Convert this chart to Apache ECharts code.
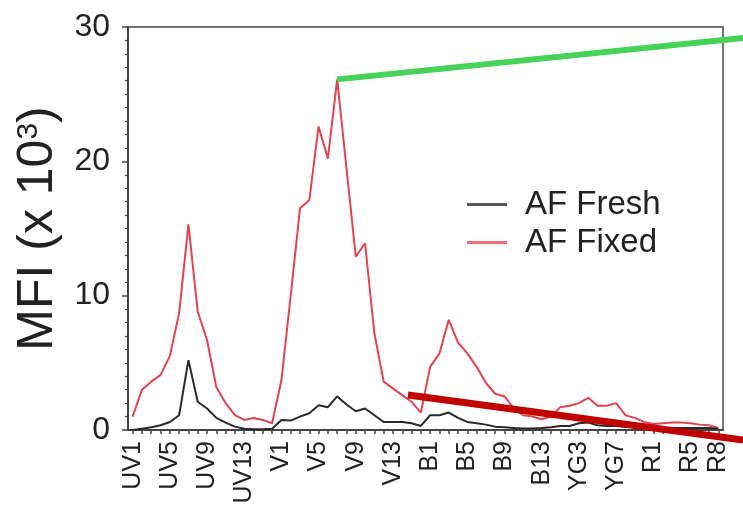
<!DOCTYPE html>
<html>
<head>
<meta charset="utf-8">
<script src="https://cdn.jsdelivr.net/npm/echarts@6/dist/echarts.min.js"></script>
<style>
html,body{margin:0;padding:0;background:#fff;}
#chart{width:743px;height:512px;}
</style>
</head>
<body>
<div id="chart"></div>
<script>
const categories = [
  'UV1','UV2','UV3','UV4','UV5','UV6','UV7','UV8','UV9','UV10','UV11','UV12','UV13','UV14','UV15','UV16',
  'V1','V2','V3','V4','V5','V6','V7','V8','V9','V10','V11','V12','V13','V14','V15','V16',
  'B1','B2','B3','B4','B5','B6','B7','B8','B9','B10','B11','B12','B13','B14',
  'YG1','YG2','YG3','YG4','YG5','YG6','YG7','YG8','YG9','YG10',
  'R1','R2','R3','R4','R5','R6','R7','R8'
];
const afFresh = [
  0.0, 0.1, 0.2, 0.35, 0.6, 1.1, 5.2, 2.1, 1.6, 0.9, 0.55, 0.25, 0.1, 0.05, 0.05, 0.1,
  0.75, 0.7, 1.0, 1.25, 1.85, 1.7, 2.5, 1.9, 1.4, 1.6, 1.1, 0.6, 0.6, 0.6, 0.5, 0.3,
  1.1, 1.1, 1.3, 0.9, 0.6, 0.5, 0.4, 0.25, 0.2, 0.15, 0.12, 0.12, 0.15, 0.2,
  0.3, 0.3, 0.5, 0.55, 0.35, 0.3, 0.3, 0.25, 0.2, 0.2,
  0.15, 0.15, 0.15, 0.15, 0.15, 0.15, 0.15, 0.1
];
const afFixed = [
  1.0, 3.0, 3.6, 4.1, 5.5, 8.7, 15.3, 8.8, 6.7, 3.2, 2.0, 1.1, 0.75, 0.9, 0.75, 0.5,
  3.7, 10.0, 16.5, 17.1, 22.6, 20.2, 26.1, 19.5, 12.9, 13.9, 7.2, 3.6, 3.1, 2.6, 2.1, 1.3,
  4.7, 5.7, 8.2, 6.5, 5.7, 4.7, 3.5, 2.7, 2.5, 1.6, 1.1, 1.0, 0.8, 1.0,
  1.7, 1.8, 2.0, 2.4, 1.8, 1.8, 2.0, 1.1, 0.9, 0.6,
  0.45, 0.5, 0.55, 0.55, 0.5, 0.4, 0.35, 0.15
];
const yTicks = [0, 10, 20, 30];
const seriesNames = ['AF Fresh', 'AF Fixed'];

const FONT = 'Liberation Sans, Arial, sans-serif';
const chart = echarts.init(document.getElementById('chart'), null, {renderer: 'canvas'});
const option = {
  animation: false,
  backgroundColor: '#fff',
  grid: {left: 128, right: 20, top: 27, bottom: 82, show: true, borderColor: '#777', borderWidth: 2, backgroundColor: 'transparent'},
  legend: {
    orient: 'vertical', left: 462, top: 183, itemWidth: 40, itemHeight: 3, itemGap: 5,
    icon: 'rect',
    textStyle: {fontFamily: FONT, fontSize: 33, color: '#222', padding: [0, 0, 0, 13]},
    data: seriesNames
  },
  xAxis: {
    type: 'category', data: categories, boundaryGap: true,
    axisLine: {lineStyle: {color: '#444', width: 2}},
    axisTick: {show: true, alignWithLabel: true, interval: 0, length: 4, lineStyle: {color: '#444', width: 1.5}},
    axisLabel: {
      rotate: 90, fontFamily: FONT, fontSize: 25, color: '#222', margin: 11,
      interval: (i) => i % 4 === 0 || i === categories.length - 1
    }
  },
  yAxis: {
    type: 'value', min: yTicks[0], max: yTicks[yTicks.length - 1], interval: 10,
    name: 'MFI (x 10{sup|3})', nameLocation: 'middle', nameRotate: 90, nameGap: 64,
    nameTextStyle: {fontFamily: FONT, fontSize: 50, color: '#222',
      rich: {sup: {fontFamily: FONT, fontSize: 30, color: '#222', verticalAlign: 'top', padding: [0,0,20,0]}}},
    axisLine: {show: true, lineStyle: {color: '#444', width: 2}},
    axisTick: {show: true, length: 6, lineStyle: {color: '#444', width: 1.5}},
    minorTick: {show: true, splitNumber: 10, length: 3, lineStyle: {color: '#444', width: 1.2}},
    splitLine: {show: false},
    axisLabel: {fontFamily: FONT, fontSize: 32, color: '#222', margin: 18}
  },
  series: [
    {name: seriesNames[0], type: 'line', data: afFresh, symbol: 'none', z: 3,
     itemStyle: {color: '#555'}, lineStyle: {color: '#2a2a2a', width: 2}},
    {name: seriesNames[1], type: 'line', data: afFixed, symbol: 'none', z: 2,
     itemStyle: {color: '#f0707a'}, lineStyle: {color: '#e04452', width: 2}}
  ]
};
chart.setOption(option);

// annotation pointer lines (overlay)
const peakIdx = afFixed.indexOf(Math.max(...afFixed));
const gStart = chart.convertToPixel({gridIndex: 0}, [peakIdx, afFixed[peakIdx]]);
chart.setOption({
  graphic: [
    {type: 'line', z: 100, shape: {x1: gStart[0], y1: gStart[1], x2: 743, y2: 38},
     style: {stroke: '#47d35a', lineWidth: 6}},
    {type: 'line', z: 100, shape: {x1: 408, y1: 395, x2: 743, y2: 440},
     style: {stroke: '#c00000', lineWidth: 7}}
  ]
});
</script>
</body>
</html>
